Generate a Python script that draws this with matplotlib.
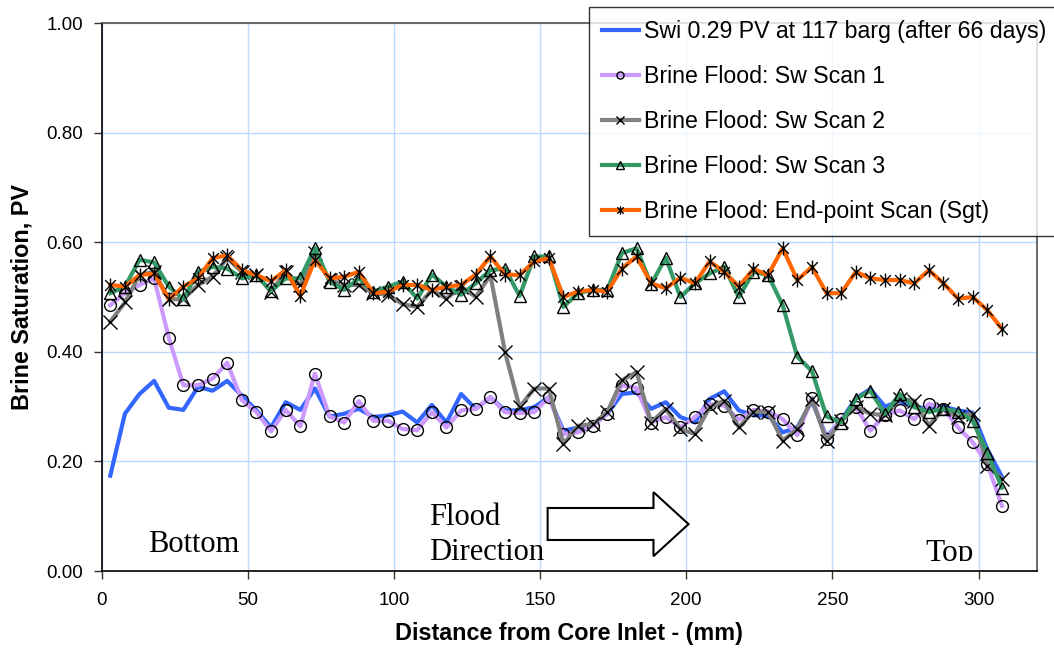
import matplotlib
matplotlib.use("Agg")
import matplotlib.pyplot as plt
from matplotlib.path import Path
from matplotlib.patches import Polygon
from matplotlib.transforms import Bbox, TransformedBbox

distance_mm = [3, 8, 13, 18, 23, 28, 33, 38, 43, 48, 53, 58, 63, 68, 73, 78,
               83, 88, 93, 98, 103, 108, 113, 118, 123, 128, 133, 138, 143, 148, 153, 158,
               163, 168, 173, 178, 183, 188, 193, 198, 203, 208, 213, 218, 223, 228, 233, 238,
               243, 248, 253, 258, 263, 268, 273, 278, 283, 288, 293, 298, 303, 308]

swi = [0.174, 0.287, 0.323, 0.347, 0.298, 0.294, 0.336, 0.329, 0.347, 0.320, 0.293, 0.262, 0.308, 0.294, 0.333, 0.282,
       0.287, 0.296, 0.281, 0.284, 0.291, 0.271, 0.303, 0.271, 0.323, 0.296, 0.317, 0.293, 0.293, 0.299, 0.317, 0.256,
       0.262, 0.266, 0.287, 0.323, 0.326, 0.296, 0.308, 0.281, 0.271, 0.314, 0.328, 0.293, 0.284, 0.284, 0.253, 0.262,
       0.310, 0.245, 0.275, 0.315, 0.332, 0.300, 0.310, 0.300, 0.296, 0.300, 0.293, 0.289, 0.222, 0.172]

scan1 = [0.485, 0.507, 0.522, 0.534, 0.426, 0.339, 0.339, 0.351, 0.380, 0.312, 0.290, 0.255, 0.294, 0.264, 0.360, 0.282,
         0.271, 0.310, 0.274, 0.274, 0.259, 0.257, 0.290, 0.262, 0.293, 0.296, 0.317, 0.290, 0.288, 0.290, 0.317, 0.250,
         0.253, 0.265, 0.287, 0.339, 0.334, 0.271, 0.281, 0.262, 0.281, 0.305, 0.302, 0.276, 0.294, 0.291, 0.277, 0.248,
         0.316, 0.241, 0.278, 0.299, 0.256, 0.285, 0.293, 0.277, 0.305, 0.296, 0.262, 0.235, 0.195, 0.119]

scan2 = [0.455, 0.490, 0.540, 0.546, 0.496, 0.496, 0.522, 0.537, 0.571, 0.546, 0.540, 0.510, 0.546, 0.522, 0.580, 0.531,
         0.522, 0.522, 0.507, 0.504, 0.487, 0.482, 0.513, 0.497, 0.519, 0.500, 0.540, 0.400, 0.299, 0.333, 0.333, 0.232,
         0.265, 0.268, 0.290, 0.348, 0.363, 0.271, 0.296, 0.259, 0.250, 0.299, 0.311, 0.262, 0.291, 0.290, 0.238, 0.259,
         0.314, 0.238, 0.274, 0.299, 0.287, 0.284, 0.314, 0.311, 0.265, 0.296, 0.281, 0.287, 0.192, 0.168]

scan3 = [0.507, 0.519, 0.568, 0.563, 0.519, 0.496, 0.546, 0.555, 0.552, 0.534, 0.540, 0.511, 0.534, 0.534, 0.590, 0.528,
         0.513, 0.534, 0.510, 0.519, 0.528, 0.497, 0.541, 0.519, 0.504, 0.525, 0.549, 0.552, 0.502, 0.574, 0.574, 0.482,
         0.507, 0.513, 0.513, 0.580, 0.589, 0.523, 0.572, 0.500, 0.525, 0.543, 0.555, 0.500, 0.546, 0.540, 0.485, 0.391,
         0.365, 0.282, 0.271, 0.314, 0.329, 0.287, 0.323, 0.299, 0.290, 0.296, 0.291, 0.274, 0.216, 0.152]

endpoint = [0.522, 0.519, 0.540, 0.543, 0.496, 0.519, 0.534, 0.571, 0.576, 0.549, 0.540, 0.529, 0.549, 0.502, 0.568, 0.534,
            0.537, 0.546, 0.507, 0.510, 0.522, 0.522, 0.513, 0.519, 0.522, 0.541, 0.574, 0.541, 0.540, 0.565, 0.571, 0.500,
            0.510, 0.513, 0.510, 0.552, 0.574, 0.525, 0.516, 0.535, 0.525, 0.565, 0.546, 0.519, 0.551, 0.540, 0.589, 0.531,
            0.555, 0.507, 0.507, 0.546, 0.534, 0.531, 0.531, 0.525, 0.549, 0.525, 0.497, 0.500, 0.476, 0.442]

labels = ["Swi 0.29 PV at 117 barg (after 66 days)",
          "Brine Flood: Sw Scan 1",
          "Brine Flood: Sw Scan 2",
          "Brine Flood: Sw Scan 3",
          "Brine Flood: End-point Scan (Sgt)"]
x_ticks = [0, 50, 100, 150, 200, 250, 300]
y_ticks = [0.0, 0.2, 0.4, 0.6, 0.8, 1.0]

plt.rcParams['font.family'] = ['Liberation Sans', 'DejaVu Sans']

fig = plt.figure(figsize=(10.54, 6.54), dpi=100)
ax = fig.add_axes([0.0963, 0.1269, 0.8876, 0.8379])

# Excel-like asterisk: X plus vertical bar
star = Path([(-1, -1), (1, 1), (-1, 1), (1, -1), (0, -1.3), (0, 1.3)],
            [Path.MOVETO, Path.LINETO, Path.MOVETO, Path.LINETO, Path.MOVETO, Path.LINETO])

lw = 3.0
ax.plot(distance_mm, swi, color='#3366FF', lw=lw, label=labels[0], zorder=3)
ax.plot(distance_mm, scan1, color='#CC99FF', lw=lw, marker='o', ms=8.5, mfc='none',
        mec='black', mew=1.0, label=labels[1], zorder=4)
ax.plot(distance_mm, scan2, color='#808080', lw=lw, marker='x', ms=10, mec='black',
        mew=1.0, label=labels[2], zorder=5)
ax.plot(distance_mm, scan3, color='#339966', lw=lw, marker='^', ms=9, mfc='none',
        mec='black', mew=1.0, label=labels[3], zorder=6)
ax.plot(distance_mm, endpoint, color='#FF6600', lw=lw, marker=star, ms=10, mec='black',
        mew=1.0, label=labels[4], zorder=7)

ax.set_xlim(0, 320)
ax.set_ylim(0, 1.0)
ax.set_xticks(x_ticks)
ax.set_yticks(y_ticks)
ax.set_yticklabels([f"{v:.2f}" for v in y_ticks])
ax.grid(True, color='#B9DBFF', lw=1.0, zorder=0)
ax.set_axisbelow(True)
ax.tick_params(axis='both', direction='out', length=6, width=1, labelsize=13.5, color='#333333')
ax.tick_params(axis='x', pad=9)
ax.tick_params(axis='y', pad=7.5)
for s in ['left', 'bottom']:
    ax.spines[s].set_color('black')
    ax.spines[s].set_linewidth(1.2)
for s in ['top', 'right']:
    ax.spines[s].set_color('#505050')
    ax.spines[s].set_linewidth(1.2)

ax.set_xlabel("Distance from Core Inlet - (mm)", fontsize=16.8, fontweight='bold')
ax.set_ylabel("Brine Saturation, PV", fontsize=16.8, fontweight='bold')
ax.xaxis.set_label_coords(0.5, -0.093)
ax.yaxis.set_label_coords(-0.073, 0.5)

serif = ['Liberation Serif', 'DejaVu Serif']
ax.text(15.9, 0.0347, "Bottom", family=serif, fontsize=22, zorder=8)
ax.text(112.2, 0.084, "Flood", family=serif, fontsize=22, zorder=8)
ax.text(112.2, 0.020, "Direction", family=serif, fontsize=22, zorder=8)
t = ax.text(281.8, 0.018, "Top", family=serif, fontsize=22.5, zorder=8)
t.set_clip_box(TransformedBbox(Bbox([[0, 0.018], [320, 1.0]]), ax.transData))
t.set_clip_on(True)

arrow = Polygon([(152.6, 0.115), (188.8, 0.115), (188.8, 0.144), (200.8, 0.0855),
                 (188.8, 0.027), (188.8, 0.0566), (152.6, 0.0566)],
                closed=True, facecolor='white', edgecolor='black', lw=1.5, zorder=8)
ax.add_patch(arrow)

leg = ax.legend(loc='upper left', bbox_to_anchor=(0.559, 0.989), bbox_transform=fig.transFigure,
                fontsize=16.7, frameon=True, fancybox=False, borderaxespad=0,
                handlelength=1.6, handletextpad=0.2, labelspacing=0.95, borderpad=0.55,
                markerscale=0.6)
leg.get_frame().set_edgecolor('black')
leg.get_frame().set_linewidth(1.0)
leg.set_zorder(20)

fig.savefig("out.png", dpi=100)
